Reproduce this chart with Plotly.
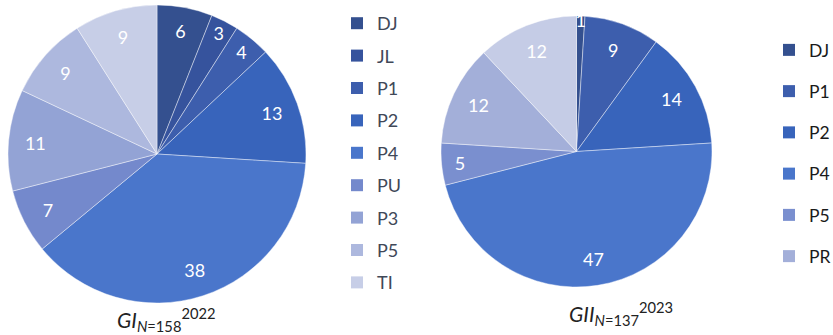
import plotly.graph_objects as go

# Data
labels_2022 = ["DJ", "JL", "P1", "P2", "P4", "PU", "P3", "P5", "TI"]
values_2022 = [6, 3, 4, 13, 38, 7, 11, 9, 9]
colors_2022 = ["#34508f", "#36539d", "#3d5ead", "#3864bb", "#4a76cb",
               "#7489cc", "#93a3d5", "#adb8de", "#c7cee7"]

labels_2023 = ["DJ", "P1", "P2", "P4", "P5", "PR", "TI"]
values_2023 = [1, 9, 14, 47, 5, 12, 12]
colors_2023 = ["#34508f", "#3d5ead", "#3864bb", "#4a76cb",
               "#7a8fcf", "#a3afd9", "#c5cce6"]
legend_2023 = ["DJ", "P1", "P2", "P4", "P5", "PR"]

title_2022 = "<i>GI</i><sub><i>N</i>=158</sub><sup>2022</sup>"
title_2023 = "<i>GII</i><sub><i>N</i>=137</sub><sup>2023</sup>"

W, H = 833, 335
FONT = "Lato, 'Open Sans', sans-serif"

dom_2022 = dict(x=[8 / W, 306 / W], y=[(H - 303) / H, (H - 5) / H])
dom_2023 = dict(x=[440 / W, 713 / W], y=[(H - 287) / H, (H - 16) / H])

fig = go.Figure()


def add_pie(labels, values, colors, dom, hole):
    # coloured slices
    fig.add_trace(go.Pie(
        labels=labels, values=values, sort=False, direction="clockwise", rotation=0,
        marker=dict(colors=colors, line=dict(color="rgba(255,255,255,0.6)", width=0.7)),
        textinfo="none", domain=dom, showlegend=False, hoverinfo="label+value",
    ))
    # transparent ring carrying the value labels near the rim
    fig.add_trace(go.Pie(
        labels=labels, values=values, sort=False, direction="clockwise", rotation=0,
        hole=hole,
        marker=dict(colors=["rgba(0,0,0,0)"] * len(values), line=dict(width=0)),
        textinfo="value", textposition="inside", insidetextorientation="horizontal",
        textfont=dict(color="white", size=18, family=FONT),
        domain=dom, showlegend=False, hoverinfo="skip",
    ))


add_pie(labels_2022, values_2022, colors_2022, dom_2022, 0.64)
add_pie(labels_2023, values_2023, colors_2023, dom_2023, 0.60)

# Legend entries
for lab, col in zip(labels_2022, colors_2022):
    fig.add_trace(go.Scatter(
        x=[None], y=[None], mode="markers", name=lab,
        marker=dict(symbol="square", size=12, color=col),
        legend="legend", legendgroup="a" + lab, showlegend=True,
    ))
for lab in legend_2023:
    col = colors_2023[labels_2023.index(lab)]
    fig.add_trace(go.Scatter(
        x=[None], y=[None], mode="markers", name=lab,
        marker=dict(symbol="square", size=12, color=col),
        legend="legend2", legendgroup="b" + lab, showlegend=True,
    ))

fig.update_layout(
    width=W, height=H, autosize=False,
    margin=dict(l=0, r=0, t=0, b=0, pad=0, autoexpand=False),
    paper_bgcolor="white", plot_bgcolor="white",
    font=dict(family=FONT),
    uniformtext=dict(mode="show", minsize=18),
    xaxis=dict(visible=False), yaxis=dict(visible=False),
    legend=dict(x=337 / W, y=1 - 5 / H, xanchor="left", yanchor="top",
                font=dict(size=18, color="#404858", family=FONT),
                traceorder="grouped", tracegroupgap=6, bgcolor="rgba(0,0,0,0)",
                itemclick=False, itemdoubleclick=False),
    legend2=dict(x=769 / W, y=1 - 32 / H, xanchor="left", yanchor="top",
                 font=dict(size=17.5, color="#1a1a1a", family=FONT),
                 traceorder="grouped", tracegroupgap=15.5, bgcolor="rgba(0,0,0,0)",
                 itemclick=False, itemdoubleclick=False),
    annotations=[
        dict(text=title_2022, x=115 / W, y=1 - 319 / H, xref="paper", yref="paper",
             showarrow=False, yanchor="middle", xanchor="left",
             font=dict(size=21, color="#222222", family=FONT)),
        dict(text=title_2023, x=567 / W, y=1 - 313 / H, xref="paper", yref="paper",
             showarrow=False, yanchor="middle", xanchor="left",
             font=dict(size=21, color="#222222", family=FONT)),
    ],
)

fig.write_html("out.html", config={"responsive": False})
